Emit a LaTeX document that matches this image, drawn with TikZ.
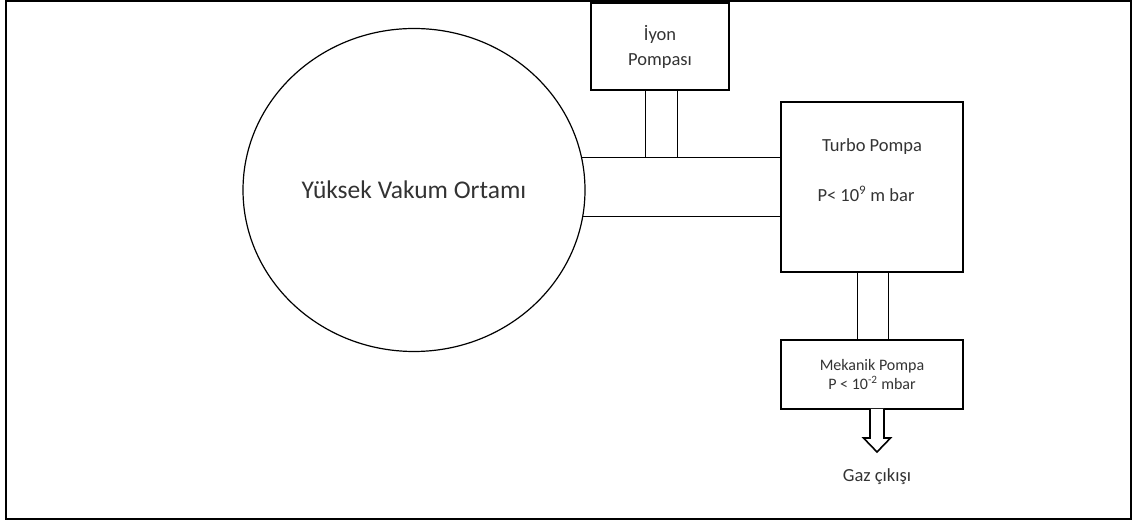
\documentclass[tikz,border=0pt]{standalone}
\usepackage{fontspec}
\setmainfont{Carlito}
\usetikzlibrary{shapes.geometric,positioning}
\tikzset{
  pompa/.style={draw,line width=1.6pt,inner sep=0pt,outer sep=0pt,align=center},
  boru/.style={line width=1pt},
  yazi/.style={inner sep=0pt,text=black!80},
}
\begin{document}
\begin{tikzpicture}[x=1pt,y=1pt]
\useasboundingbox (0,0) rectangle (1134,522);
\draw[line width=2pt] (6,3) rectangle (1131,521);
% vakum haznesi
\node[draw,ellipse,line width=1.2pt,minimum width=342pt,minimum height=323pt,inner sep=0pt,outer sep=0pt,
  font=\fontsize{25.5}{30}\selectfont,text=black!80] (hazne) at (414,332) {Yüksek Vakum Ortamı};
% pompalar
\node[pompa,minimum width=138pt,minimum height=87pt,font=\fontsize{18.5}{25}\selectfont,text=black!80] (iyon) at (660,475.5) {İyon\\Pompası};
\node[pompa,minimum width=182pt,minimum height=170pt] (turbo) at (872,335) {};
\node[yazi,font=\fontsize{18.5}{22}\selectfont] (turboad) at (872,375) {Turbo Pompa};
\node[yazi,font=\fontsize{18.5}{22}\selectfont] (turbobasinc) at (866,328) {P< 10\textsuperscript{9} m bar};
\node[pompa,minimum width=182pt,minimum height=69pt,font=\fontsize{16}{19}\selectfont,text=black!80] (mekanik) at (872,147.5) {Mekanik Pompa\\P < 10\textsuperscript{-2} mbar};
% borular
\draw[boru] (hazne.11.15) -- (hazne.11.15 -| turbo.west);
\draw[boru] (hazne.-9.44) -- (hazne.-9.44 -| turbo.west);
\draw[boru] ([xshift=-15pt]iyon.south) -- ([xshift=-15pt]iyon.south |- hazne.11.15);
\draw[boru] ([xshift=17pt]iyon.south) -- ([xshift=17pt]iyon.south |- hazne.11.15);
\draw[boru] ([xshift=-15pt]turbo.south) -- ([xshift=-15pt]mekanik.north);
\draw[boru] ([xshift=16pt]turbo.south) -- ([xshift=16pt]mekanik.north);
% gaz cikisi
\coordinate (cikis) at ([xshift=5pt]mekanik.south);
\draw[line width=1.6pt,fill=white] ([xshift=-7pt]cikis) -- ++(0,-29) -- ++(-6.5,0) -- ++(13.5,-14)
  -- ++(13.5,14) -- ++(-6.5,0) -- ([xshift=7pt]cikis);
\node[yazi,font=\fontsize{18.5}{22}\selectfont] (gaz) at (877,45) {Gaz çıkışı};
\end{tikzpicture}
\end{document}
